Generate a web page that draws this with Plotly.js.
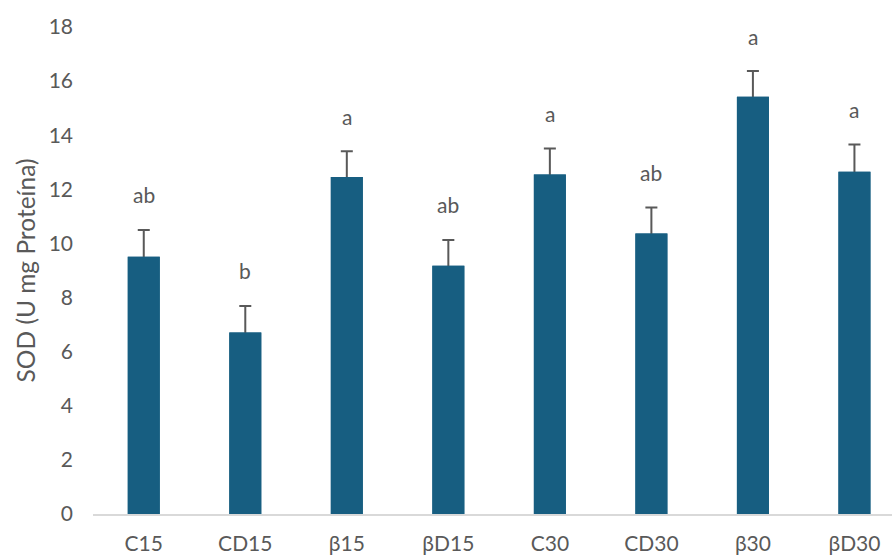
<!DOCTYPE html>
<html>
<head>
<meta charset="utf-8">
<script src="https://cdn.plot.ly/plotly-3.0.1.min.js"></script>
<style>html,body{margin:0;padding:0;background:#fff;}#chart{width:892px;height:556px;}</style>
</head>
<body>
<div id="chart"></div>
<script>
const categories = ["C15", "CD15", "β15", "βD15", "C30", "CD30", "β30", "βD30"];
const sodValues = [9.51, 6.71, 12.46, 9.18, 12.55, 10.37, 15.42, 12.65];
const sodErrors = [0.99, 0.98, 0.95, 0.95, 0.96, 0.96, 0.95, 1.01];
const letters = ["ab", "b", "a", "ab", "a", "ab", "a", "a"];
const yTicks = [0, 2, 4, 6, 8, 10, 12, 14, 16, 18];

const textColor = "#595959";
const barColor = "#175E81";
const fontFamily = "Lato, 'Open Sans', sans-serif";

// bars carrying the (upper-only) error bars; the lower end is tucked inside the bar
const errTrace = {
  type: "bar",
  x: categories,
  y: sodValues,
  marker: {color: barColor},
  error_y: {
    type: "data",
    array: sodErrors,
    symmetric: false,
    arrayminus: sodErrors.map(() => 0.3),
    color: "#595959",
    thickness: 2,
    width: 6
  },
  hoverinfo: "skip"
};

// same bars drawn on top to hide the lower cap
const barTrace = {
  type: "bar",
  x: categories,
  y: sodValues,
  marker: {color: barColor},
  hoverinfo: "x+y"
};

const annotations = categories.map((c, i) => ({
  x: c,
  y: sodValues[i] + sodErrors[i],
  xref: "x",
  yref: "y",
  text: letters[i],
  showarrow: false,
  yanchor: "middle",
  yshift: 35,
  font: {family: fontFamily, size: 21, color: textColor}
}));

const layout = {
  width: 892,
  height: 556,
  margin: {l: 93, r: 0, t: 27, b: 42},
  paper_bgcolor: "#ffffff",
  plot_bgcolor: "#ffffff",
  showlegend: false,
  barmode: "overlay",
  bargap: 0.685,
  font: {family: fontFamily, size: 21, color: textColor},
  xaxis: {
    type: "category",
    range: [-0.5, 7.37],
    showgrid: false,
    zeroline: false,
    showline: true,
    linecolor: "#D9D9D9",
    linewidth: 2,
    ticks: "",
    ticklabelstandoff: 10,
    tickfont: {family: fontFamily, size: 21, color: textColor}
  },
  yaxis: {
    range: [0, 18],
    tickvals: yTicks,
    ticktext: yTicks.map(String),
    showgrid: false,
    zeroline: false,
    showline: false,
    ticks: "",
    ticklabelstandoff: 19,
    tickfont: {family: fontFamily, size: 21, color: textColor},
    title: {
      text: "SOD (U mg Proteína)",
      font: {family: fontFamily, size: 24.5, color: textColor},
      standoff: 6
    }
  },
  annotations: annotations
};

Plotly.newPlot("chart", [errTrace, barTrace], layout, {displayModeBar: false, staticPlot: true});
</script>
</body>
</html>
